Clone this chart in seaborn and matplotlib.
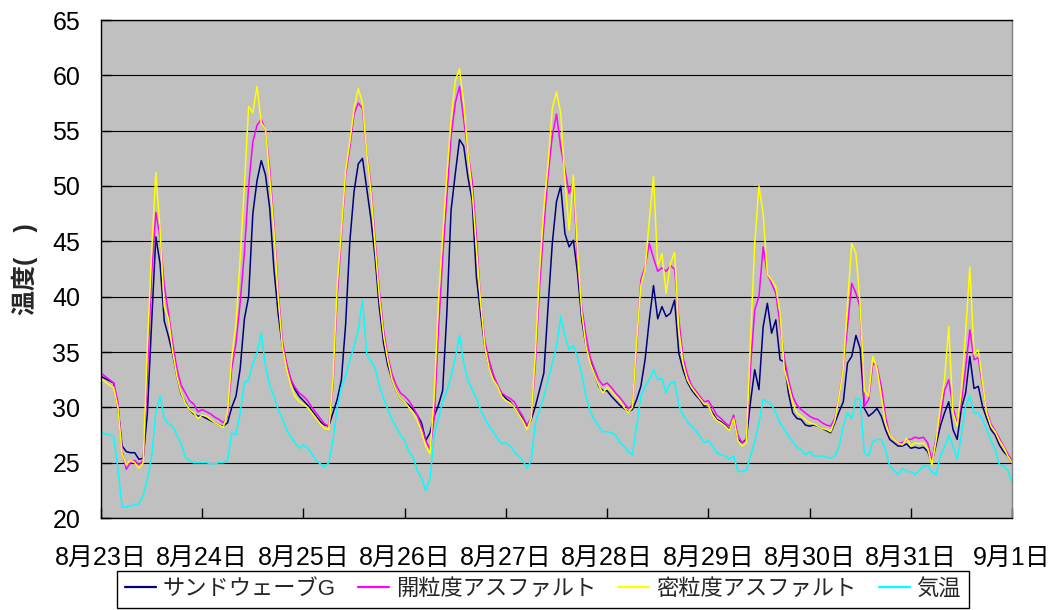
import numpy as np
import pandas as pd
import matplotlib
matplotlib.use("Agg")
import matplotlib.pyplot as plt
import seaborn as sns
from matplotlib import font_manager
from matplotlib.lines import Line2D

# ---------------- data (hourly readings, 8/23 0:00 .. 9/1 0:00) ----------------
day_labels = ["8月23日", "8月24日", "8月25日", "8月26日", "8月27日",
              "8月28日", "8月29日", "8月30日", "8月31日", "9月1日"]
series_names = ["サンドウェーブG", "開粒度アスファルト", "密粒度アスファルト", "気温"]
series_colors = ["#000080", "#FF00FF", "#FFFF00", "#00FFFF"]

sand_wave = [
    32.8, 32.6, 32.4, 32.2, 30.0, 26.5, 26.0, 25.9, 25.9, 25.3, 25.4, 29.5, 37.6, 45.4, 43.0, 37.8, 36.4, 34.8, 32.8, 31.2, 30.5, 29.8, 29.4, 29.2,
    29.2, 29.0, 28.8, 28.6, 28.4, 28.3, 28.6, 30.0, 31.0, 33.5, 38.0, 40.0, 47.5, 50.5, 52.3, 51.0, 48.0, 42.5, 38.5, 35.5, 33.8, 32.5, 31.6, 31.0,
    30.6, 30.2, 29.7, 29.2, 28.7, 28.4, 28.3, 29.5, 30.7, 32.5, 37.5, 45.0, 49.5, 52.0, 52.5, 49.8, 47.0, 43.5, 39.0, 35.8, 33.8, 32.5, 31.5, 30.8,
    30.5, 30.2, 29.8, 29.3, 28.6, 27.0, 27.7, 29.2, 30.2, 31.5, 38.5, 47.8, 51.1, 54.2, 53.6, 50.8, 48.7, 41.8, 38.5, 35.5, 33.7, 32.8, 32.0, 31.2,
    30.8, 30.5, 30.0, 29.5, 29.0, 28.3, 28.9, 30.1, 31.6, 33.1, 39.1, 44.8, 48.6, 50.0, 45.7, 44.5, 45.1, 42.1, 37.9, 35.5, 34.3, 33.1, 31.9, 31.5,
    31.5, 31.0, 30.6, 30.2, 29.9, 29.6, 29.8, 30.7, 31.9, 34.3, 37.9, 41.0, 38.0, 39.1, 38.2, 38.5, 39.7, 34.9, 33.4, 32.3, 31.6, 31.1, 30.7, 30.1,
    30.2, 29.5, 28.9, 28.7, 28.4, 28.0, 29.0, 27.1, 26.8, 27.1, 30.5, 33.4, 31.6, 37.3, 39.4, 36.7, 37.9, 34.3, 34.1, 31.3, 29.5, 29.0, 28.9, 28.4,
    28.3, 28.4, 28.3, 28.1, 27.9, 27.7, 28.6, 29.6, 30.5, 34.0, 34.6, 36.5, 35.3, 29.9, 29.2, 29.5, 29.9, 29.2, 28.0, 27.1, 26.8, 26.5, 26.5, 26.7,
    26.3, 26.4, 26.3, 26.4, 26.0, 25.0, 26.6, 28.3, 29.5, 30.5, 28.0, 27.1, 29.9, 31.3, 34.6, 31.7, 31.9, 30.1, 29.0, 28.0, 27.5, 26.6, 26.0, 25.6,
    25.0,
]
open_asphalt = [
    33.1, 32.8, 32.5, 32.2, 30.5, 26.0, 24.4, 25.0, 25.2, 24.8, 25.2, 33.0, 42.0, 47.6, 45.4, 41.0, 38.5, 35.8, 33.5, 32.0, 31.3, 30.6, 30.3, 29.6,
    29.8, 29.6, 29.4, 29.1, 28.9, 28.6, 29.2, 33.5, 35.8, 39.5, 44.0, 50.0, 54.0, 55.5, 56.0, 55.0, 51.5, 46.5, 40.5, 36.0, 34.0, 32.5, 31.8, 31.3,
    31.0, 30.6, 30.0, 29.5, 29.0, 28.5, 28.3, 32.0, 40.0, 45.5, 51.0, 53.5, 56.5, 57.5, 57.0, 53.0, 50.0, 45.0, 40.5, 37.0, 34.6, 33.0, 32.0, 31.3,
    31.0, 30.6, 30.0, 29.3, 28.2, 27.0, 26.2, 29.0, 37.0, 43.5, 49.0, 54.5, 57.5, 59.0, 56.0, 53.0, 50.5, 45.5, 39.5, 36.0, 34.3, 33.0, 32.0, 31.3,
    31.0, 30.8, 30.5, 29.8, 29.2, 28.4, 29.0, 34.0, 41.0, 46.3, 51.0, 54.5, 56.5, 53.5, 51.5, 49.3, 50.5, 43.0, 39.0, 36.5, 34.5, 33.5, 32.5, 32.0,
    32.2, 31.8, 31.3, 30.9, 30.4, 29.9, 30.2, 35.5, 41.5, 42.7, 44.8, 43.5, 42.3, 42.6, 42.3, 42.8, 42.5, 38.0, 34.5, 33.0, 32.0, 31.5, 31.0, 30.5,
    30.6, 30.0, 29.3, 29.0, 28.6, 28.3, 29.3, 27.5, 26.8, 27.0, 33.7, 38.8, 40.0, 44.5, 42.0, 41.2, 40.3, 37.5, 34.5, 32.5, 31.0, 30.2, 29.8, 29.5,
    29.2, 29.0, 28.9, 28.6, 28.4, 28.3, 29.0, 31.0, 33.6, 37.3, 41.2, 40.3, 39.0, 30.1, 30.7, 34.0, 33.7, 31.9, 29.2, 27.5, 27.1, 26.8, 26.8, 27.1,
    27.1, 27.3, 27.2, 27.3, 26.8, 25.2, 27.2, 29.0, 31.5, 32.5, 30.0, 28.5, 30.5, 33.5, 37.0, 34.3, 34.5, 32.0, 29.7, 28.5, 27.9, 27.2, 26.5, 25.8,
    25.2,
]
dense_asphalt = [
    32.6, 32.3, 32.0, 31.8, 30.0, 25.8, 24.8, 25.2, 25.0, 24.5, 25.0, 35.5, 44.0, 51.2, 46.0, 39.1, 38.0, 35.0, 32.8, 31.3, 30.4, 29.8, 29.5, 29.0,
    29.3, 29.2, 28.9, 28.6, 28.4, 28.2, 29.5, 34.5, 37.6, 43.5, 50.0, 57.2, 56.6, 59.0, 55.7, 55.1, 50.8, 46.0, 40.0, 35.5, 33.5, 32.0, 31.0, 30.5,
    30.3, 30.0, 29.5, 29.0, 28.5, 28.1, 28.0, 32.5, 41.0, 46.0, 51.4, 54.0, 57.0, 58.8, 57.5, 53.0, 49.5, 44.5, 40.0, 36.5, 34.3, 32.5, 31.5, 30.8,
    30.5, 30.0, 29.5, 28.8, 27.8, 26.5, 25.8, 31.0, 39.5, 45.5, 51.0, 56.0, 59.5, 60.6, 57.5, 53.0, 49.5, 44.5, 39.5, 35.5, 33.6, 32.5, 31.9, 31.0,
    30.6, 30.4, 30.0, 29.4, 28.8, 28.0, 29.0, 34.9, 42.5, 48.0, 52.0, 57.0, 58.5, 56.6, 50.5, 46.0, 51.0, 44.0, 38.5, 35.5, 34.0, 33.0, 32.0, 31.3,
    31.8, 31.5, 31.0, 30.6, 30.0, 29.5, 30.0, 36.0, 41.0, 42.5, 46.9, 50.9, 42.7, 43.9, 40.3, 43.0, 44.0, 37.0, 34.0, 32.5, 31.8, 31.3, 30.8, 30.3,
    30.2, 29.3, 28.8, 28.6, 28.3, 27.9, 29.0, 27.0, 26.5, 26.8, 36.1, 44.8, 50.0, 47.5, 42.0, 41.5, 40.9, 38.5, 33.5, 32.0, 30.4, 29.5, 29.2, 28.9,
    28.6, 28.5, 28.3, 28.1, 28.0, 27.8, 28.8, 31.0, 33.5, 39.4, 44.8, 43.9, 39.2, 31.5, 31.0, 34.6, 33.5, 31.0, 28.6, 27.5, 27.1, 26.8, 26.6, 27.2,
    26.5, 26.8, 26.7, 26.8, 26.3, 24.8, 27.0, 30.0, 32.5, 37.3, 29.5, 28.3, 31.5, 36.7, 42.7, 34.8, 35.2, 32.3, 29.5, 28.3, 27.8, 27.0, 26.4, 25.6,
    25.0,
]
air_temp = [
    27.8, 27.6, 27.5, 27.4, 24.5, 21.0, 21.0, 21.1, 21.2, 21.3, 22.0, 23.5, 25.5, 29.5, 31.0, 29.0, 28.5, 28.3, 27.5, 26.7, 25.5, 25.2, 25.0, 25.0,
    25.0, 25.0, 24.9, 24.9, 25.0, 25.0, 25.2, 27.7, 27.5, 29.5, 32.2, 32.5, 34.0, 34.9, 36.7, 33.7, 32.0, 31.0, 29.8, 29.0, 28.0, 27.3, 26.8, 26.3,
    26.6, 26.3, 25.8, 25.2, 24.9, 24.6, 25.0, 27.0, 30.0, 31.8, 32.8, 34.3, 35.5, 37.0, 39.7, 34.8, 34.2, 33.5, 32.0, 30.8, 29.8, 28.9, 28.2, 27.5,
    27.0, 26.0, 25.5, 24.3, 23.6, 22.5, 23.5, 27.5, 29.0, 30.5, 31.5, 32.8, 34.5, 36.5, 34.0, 32.5, 31.6, 30.8, 29.8, 29.0, 28.3, 27.8, 27.2, 26.7,
    26.8, 26.5, 26.0, 25.6, 25.2, 24.5, 25.2, 28.6, 29.8, 31.0, 32.5, 34.0, 35.5, 38.2, 36.5, 35.2, 35.6, 34.5, 33.0, 31.0, 29.6, 28.9, 28.3, 27.8,
    27.8, 27.7, 27.5, 26.8, 26.5, 26.0, 25.7, 28.3, 31.0, 31.9, 32.5, 33.4, 32.5, 32.6, 31.3, 32.2, 32.3, 30.2, 29.3, 28.7, 28.3, 27.9, 27.4, 26.8,
    27.0, 26.5, 25.9, 25.7, 25.6, 25.3, 25.6, 24.2, 24.2, 24.3, 25.6, 26.9, 28.6, 30.7, 30.5, 30.2, 29.5, 28.6, 28.0, 27.4, 26.9, 26.4, 26.2, 25.7,
    26.0, 25.6, 25.6, 25.6, 25.5, 25.4, 25.6, 26.5, 28.3, 29.5, 29.0, 30.8, 30.7, 25.9, 25.6, 26.9, 27.1, 27.1, 26.2, 24.7, 24.3, 23.9, 24.5, 24.2,
    24.2, 23.9, 24.3, 24.7, 24.7, 24.2, 23.9, 25.6, 26.4, 27.5, 26.5, 25.3, 27.5, 30.1, 31.0, 29.5, 29.5, 28.9, 28.0, 27.0, 26.2, 24.8, 24.7, 24.3,
    23.2,
]

# ---------------- fonts ----------------
sns.set_style("white")


def _has_font(name):
    try:
        font_manager.findfont(font_manager.FontProperties(family=name),
                              fallback_to_default=False)
        return True
    except Exception:
        return False


latin = "Liberation Sans Narrow" if _has_font("Liberation Sans Narrow") else "Liberation Sans"
plt.rcParams["font.family"] = [latin, "Noto Sans CJK JP", "DejaVu Sans"]
plt.rcParams["axes.unicode_minus"] = False

# ---------------- long-form frame ----------------
hours = np.arange(len(sand_wave))
df = pd.concat([
    pd.DataFrame({"hour": hours, "temp": vals, "series": name})
    for name, vals in zip(series_names, [sand_wave, open_asphalt, dense_asphalt, air_temp])
], ignore_index=True)

# ---------------- plot ----------------
fig = plt.figure(figsize=(10.53, 6.10), dpi=100)
ax = fig.add_axes([101 / 1053, 1 - 518 / 610, 911 / 1053, 498 / 610])
ax.set_facecolor("#C0C0C0")

palette = dict(zip(series_names, series_colors))
sns.lineplot(data=df, x="hour", y="temp", hue="series", hue_order=series_names,
             palette=palette, estimator=None, sort=False, linewidth=1.1,
             legend=False, ax=ax)

ax.set_xlim(0, 24 * 9)
ax.set_ylim(20, 65)
ax.set_xticks(np.arange(0, 24 * 9 + 1, 24))
ax.set_xticklabels(day_labels)
ax.set_yticks(np.arange(20, 66, 5))
ax.yaxis.grid(True, color="black", linewidth=0.8)
ax.xaxis.grid(False)
ax.set_axisbelow(True)

for side in ["left", "bottom", "top"]:
    ax.spines[side].set_visible(True)
    ax.spines[side].set_color("black")
    ax.spines[side].set_linewidth(1.0)
ax.spines["right"].set_visible(True)
ax.spines["right"].set_color("#808080")
ax.spines["right"].set_linewidth(1.0)

ax.tick_params(axis="both", direction="in", length=7, width=1, color="black",
               labelsize=18, labelcolor="black")
ax.tick_params(axis="x", pad=20, bottom=True, top=False)
ax.tick_params(axis="y", pad=15, left=True, right=False)

ax.set_xlabel("")
ax.set_ylabel("温度(　)", fontsize=18, fontweight="bold")
ax.yaxis.set_label_coords(-(101 - 38) / 911, 0.5)

handles = [Line2D([0], [0], color=c, linewidth=1.6) for c in series_colors]
leg = fig.legend(handles, series_names, loc="upper center",
                 bbox_to_anchor=(543 / 1053, 1 - 571 / 610), ncol=4,
                 frameon=True, fancybox=False, shadow=False, fontsize=16,
                 handlelength=1.4, handletextpad=0.3, columnspacing=1.0,
                 borderpad=0.35, borderaxespad=0.0)
leg.get_frame().set_edgecolor("black")
leg.get_frame().set_linewidth(1.0)
leg.get_frame().set_facecolor("white")
leg.get_frame().set_alpha(1.0)

fig.savefig("out.png", dpi=100)
